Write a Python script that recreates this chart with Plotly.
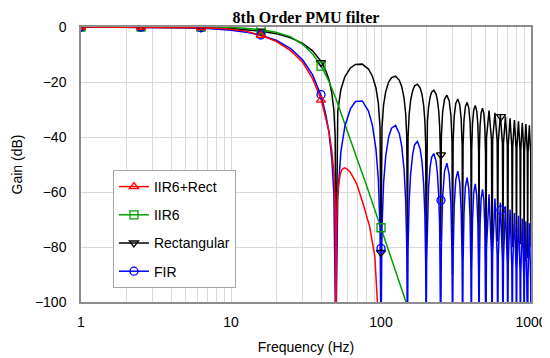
import plotly.graph_objects as go

# ---------------- data ----------------
# Rectangular / FIR responses share the same frequency samples (Hz)
lobe_freq_hz = [1, 2, 3, 5, 7, 10, 13, 16, 20, 25, 30, 35, 40, 43, 45, 47, 48.5, 49.5, 50,
                51.5, 54, 57.5, 62.5, 67.5, 75, 82.5, 87.5, 92.5, 96, 98.5, 100,
                101.5, 104, 107.5, 112.5, 117.5, 125, 132.5, 137.5, 142.5, 146, 148.5, 150,
                151.5, 154, 157.5, 162.5, 167.5, 175, 182.5, 187.5, 192.5, 196, 198.5, 200,
                201.5, 204, 207.5, 212.5, 217.5, 225, 232.5, 237.5, 242.5, 246, 248.5, 250,
                252.5, 257.5, 265, 275, 285, 292.5, 297.5, 300,
                302.5, 307.5, 315, 325, 335, 342.5, 347.5, 350,
                352.5, 357.5, 365, 375, 385, 392.5, 397.5, 400,
                402.5, 407.5, 415, 425, 435, 442.5, 447.5, 450,
                452.5, 457.5, 465, 475, 485, 492.5, 497.5, 500,
                505, 525, 545, 550, 555, 575, 595, 600, 605, 625, 645, 650,
                655, 675, 695, 700, 705, 725, 745, 750, 755, 775, 795, 800,
                805, 825, 845, 850, 855, 875, 895, 900, 905, 925, 945, 950,
                955, 975, 995, 1000]

rect_gain_db = [0, -0.01, -0.03, -0.14, -0.28, -0.58, -0.99, -1.52, -2.42, -3.92, -5.94, -8.69, -12.6, -16.1, -19.2, -24.0, -30.2, -39.9, -95,
                -30.7, -22.7, -18.0, -14.9, -13.6, -13.5, -15.3, -17.8, -22.1, -27.7, -36.3, -82,
                -36.6, -28.4, -23.5, -20.0, -18.4, -17.9, -19.4, -21.7, -25.9, -31.4, -39.9, -80,
                -40.1, -31.8, -26.8, -23.2, -21.4, -20.8, -22.2, -24.4, -28.5, -33.9, -42.4, -85,
                -42.5, -34.3, -29.2, -25.5, -23.7, -23.0, -24.3, -26.5, -30.5, -35.9, -44.4, -78,
                -40.1, -31.0, -26.3, -24.8, -26.9, -32.2, -41.5, -90,
                -41.7, -32.6, -27.8, -26.2, -28.3, -33.5, -42.9, -80,
                -43.0, -33.9, -29.1, -27.4, -29.5, -34.7, -44.1, -88,
                -44.2, -35.0, -30.2, -28.5, -30.6, -35.7, -45.1, -82,
                -45.2, -36.0, -31.2, -29.5, -31.5, -36.7, -46.0, -100,
                -40.3, -30.4, -40.9, -100, -41.1, -31.2, -41.6, -78, -41.8, -31.9, -42.4, -85,
                -42.5, -32.6, -43.0, -92, -43.1, -33.2, -43.6, -80, -43.7, -33.8, -44.2, -86,
                -44.2, -34.3, -44.7, -79, -44.8, -34.8, -45.2, -90, -45.2, -35.3, -45.7, -84,
                -45.7, -35.7, -46.1, -80]

fir_gain_db = [0, -0.02, -0.06, -0.28, -0.56, -1.16, -1.98, -3.04, -4.84, -7.84, -11.9, -17.4, -25.2, -32.2, -38.4, -48.0, -60.4, -79.8, -115,
               -61.4, -45.4, -36.0, -29.8, -27.1, -26.9, -30.6, -35.6, -44.2, -55.4, -72.6, -115,
               -73.2, -56.8, -47.0, -40.0, -36.8, -35.8, -38.8, -43.4, -51.8, -62.8, -79.8, -115,
               -80.2, -63.6, -53.6, -46.4, -42.8, -41.6, -44.4, -48.8, -57.0, -67.8, -84.8, -115,
               -85.0, -68.6, -58.4, -51.0, -47.4, -46.0, -48.6, -53.0, -61.0, -71.8, -88.8, -115,
               -80.2, -62.0, -52.6, -49.5, -53.8, -64.4, -83.0, -115,
               -83.4, -65.2, -55.6, -52.4, -56.6, -67.0, -85.8, -115,
               -86.0, -67.8, -58.2, -54.8, -59.0, -69.4, -88.2, -115,
               -88.4, -70.0, -60.4, -57.0, -61.2, -71.4, -90.2, -115,
               -90.4, -72.0, -62.4, -59.0, -63.0, -73.4, -92.0, -115,
               -80.6, -60.8, -81.8, -115, -82.2, -62.4, -83.2, -115, -83.6, -63.8, -84.8, -115,
               -85.0, -65.2, -86.0, -115, -86.2, -66.4, -87.2, -115, -87.4, -67.6, -88.4, -115,
               -88.4, -68.6, -89.4, -115, -89.6, -69.6, -90.4, -115, -90.4, -70.6, -91.4, -115,
               -91.4, -71.4, -92.2, -115]

iir6_freq_hz = [1, 2.5, 5, 6.3, 8, 10, 12.5, 15.8, 20, 25, 30, 35, 40, 45, 50, 55, 60,
                70, 80, 90, 100, 110, 125, 150]
iir6_gain_db = [0, 0, -0.01, -0.03, -0.08, -0.2, -0.45, -1.0, -1.9, -3.6, -6.3, -9.8, -14.2,
                -19.8, -26.0, -32.2, -38.0, -48.6, -57.5, -65.8, -73.0, -80.0, -89.5, -101.5]

iir_rect_freq_hz = [1, 2.5, 5, 6.3, 8, 10, 12.5, 15.8, 20, 25, 30, 35, 40, 43, 45, 47, 48.5, 49.5,
                    50, 50.5, 51, 52, 53.5, 55, 57, 59, 62, 65, 69, 76, 84, 91, 96, 98]
iir_rect_gain_db = [0, -0.03, -0.15, -0.25, -0.45, -0.8, -1.5, -3.0, -5.2, -8.6, -12.8, -18.8,
                    -26.6, -33.0, -38.0, -45.0, -53.0, -64.0, -115, -75, -64, -58, -53.5, -51.8,
                    -51.2, -51.5, -52.6, -54.5, -57.2, -64.3, -72.6, -83.5, -100, -115]

# marker samples (every 0.4 decade)
marker_freq_hz = [1, 2.512, 6.31, 15.85, 39.81, 100, 251.2, 631]
iir_rect_marker_db = [0, -0.03, -0.25, -3.0, -26.6]
iir6_marker_db = [0, 0, -0.03, -1.0, -14.2, -73.0]
rect_marker_db = [0, -0.02, -0.14, -1.5, -13.0, -82.0, -46.5, -32.6]
fir_marker_db = [0, -0.04, -0.28, -2.9, -24.6, -80.5, -63.0, -66.5]

series_names = ["IIR6+Rect", "IIR6", "Rectangular", "FIR"]

x_grid_vals = [1, 2, 3, 4, 5, 6, 7, 8, 9, 10, 20, 30, 40, 50, 60, 70, 80, 90,
               100, 200, 300, 400, 500, 600, 700, 800, 900, 1000]
x_tick_text = ["1", "", "", "", "", "", "", "", "", "10", "", "", "", "", "", "", "", "",
               "100", "", "", "", "", "", "", "", "", "1000"]
y_tick_vals = [0, -20, -40, -60, -80, -100]

# ---------------- styling ----------------
RED, GREEN, BLACK, BLUE = "#ff0000", "#00a000", "#000000", "#0000ff"
FONT = "Arial, Liberation Sans, sans-serif"
LW = 1.5

fig = go.Figure()

# lines (draw order: black, green, blue, red)
fig.add_trace(go.Scatter(x=lobe_freq_hz, y=rect_gain_db, mode="lines",
                         line=dict(color=BLACK, width=LW), showlegend=False, hoverinfo="skip"))
fig.add_trace(go.Scatter(x=iir6_freq_hz, y=iir6_gain_db, mode="lines",
                         line=dict(color=GREEN, width=LW), showlegend=False, hoverinfo="skip"))
fig.add_trace(go.Scatter(x=lobe_freq_hz, y=fir_gain_db, mode="lines",
                         line=dict(color=BLUE, width=LW), showlegend=False, hoverinfo="skip"))
fig.add_trace(go.Scatter(x=iir_rect_freq_hz, y=iir_rect_gain_db, mode="lines",
                         line=dict(color=RED, width=LW), showlegend=False, hoverinfo="skip"))

marker_sets = [
    (rect_marker_db, BLACK, "triangle-down-open"),
    (iir6_marker_db, GREEN, "square-open"),
    (fir_marker_db, BLUE, "circle-open"),
    (iir_rect_marker_db, RED, "triangle-up-open"),
]
for vals, col, sym in marker_sets:
    fig.add_trace(go.Scatter(x=marker_freq_hz[:len(vals)], y=vals, mode="markers",
                             marker=dict(symbol=sym, size=8, color=col, line=dict(color=col, width=1.3)),
                             showlegend=False, hoverinfo="skip"))

legend_styles = [(RED, "triangle-up-open"), (GREEN, "square-open"),
                 (BLACK, "triangle-down-open"), (BLUE, "circle-open")]
for i, (name, (col, sym)) in enumerate(zip(series_names, legend_styles)):
    fig.add_trace(go.Scatter(x=[None], y=[None], mode="lines+markers", name=name,
                             legendgroup=f"g{i}",
                             line=dict(color=col, width=LW),
                             marker=dict(symbol=sym, size=8, color=col, line=dict(color=col, width=1.3))))

axis_common = dict(showgrid=True, gridcolor="#d9d9d9", gridwidth=1,
                   showline=True, linecolor="#8c8c8c", linewidth=1.5, mirror=True,
                   ticks="", zeroline=False,
                   tickfont=dict(family=FONT, size=14, color="#000000"))

fig.update_xaxes(type="log", range=[0, 3], tickvals=x_grid_vals, ticktext=x_tick_text,
                 ticklabelstandoff=6,
                 title=dict(text="Frequency (Hz)", font=dict(family=FONT, size=14, color="#000000"), standoff=14),
                 **axis_common)
fig.update_yaxes(range=[-100, 0], tickvals=y_tick_vals, ticklabelstandoff=10,
                 title=dict(text="Gain (dB)", font=dict(family=FONT, size=14, color="#000000"), standoff=9),
                 **axis_common)

# the page body has an 8px margin, so the figure is 8px smaller and margins are shifted
fig.update_layout(
    width=542, height=350,
    margin=dict(l=73, r=19, t=19, b=56, autoexpand=False),
    plot_bgcolor="white", paper_bgcolor="white",
    title=dict(text="<b>8th Order PMU filter</b>",
               font=dict(family="Liberation Serif, Times New Roman, serif", size=16, color="#000000"),
               x=0.5, xref="paper", xanchor="center",
               y=1, yref="paper", yanchor="bottom", pad=dict(b=4)),
    legend=dict(x=0.071, y=0.48, xanchor="left", yanchor="top",
                bgcolor="white", bordercolor="#a6a6a6", borderwidth=1,
                font=dict(family=FONT, size=14, color="#000000"),
                itemwidth=30, traceorder="grouped", tracegroupgap=7),
)

fig.write_html("out.html")
